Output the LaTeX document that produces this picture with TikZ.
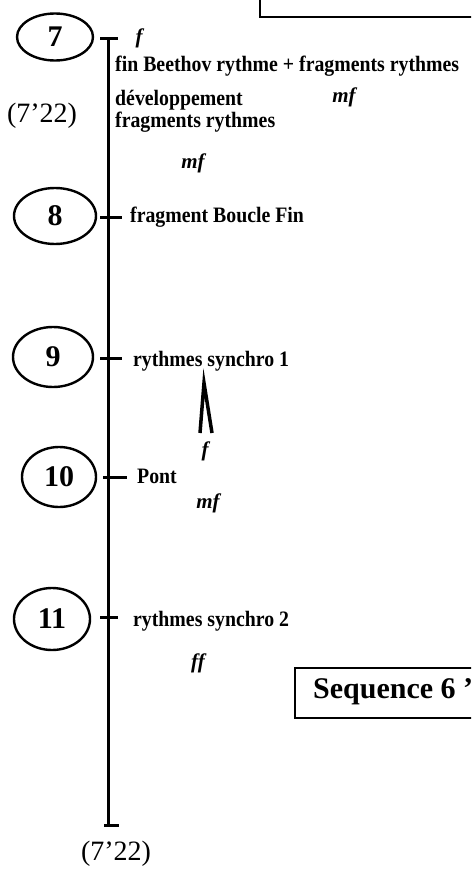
\documentclass[tikz,border=0pt]{standalone}
\usepackage{fontspec}
\setmainfont{Liberation Serif}
\newfontfamily\condserif[FakeStretch=0.9]{Liberation Serif}
\usetikzlibrary{shapes.geometric}
\tikzset{
  num/.style={draw, line width=2.4pt, ellipse, inner sep=0pt, font=\fontsize{30}{32}\selectfont\bfseries},
  lbl/.style={anchor=base west, inner sep=0pt, font=\condserif\fontsize{22}{19}\selectfont\bfseries},
  dyn/.style={inner sep=0pt, font=\fontsize{21}{23}\selectfont\bfseries\itshape},
  tme/.style={inner sep=0pt, font=\fontsize{28}{30}\selectfont},
  bar/.style={line width=3pt},
  frame/.style={draw, line width=2.4pt}
}
\begin{document}
\begin{tikzpicture}[x=1pt,y=-1pt]
\useasboundingbox (0,0) rectangle (471,872);
\clip (0,0) rectangle (471,872);
% boxes cut by the edge
\draw[frame] (260,-20) rectangle (490,17);
\node[frame, anchor=north west, minimum width=200pt, minimum height=50pt, inner sep=0pt] (seq) at (294,667) {};
\node[anchor=base west, inner sep=0pt, font=\fontsize{30}{32}\selectfont\bfseries] (seqt) at (313,698) {Sequence 6 '};
% timeline
\coordinate (top) at (108,39);
\coordinate (bot) at (108,825);
\draw[bar] (top) -- (bot);
\draw[bar] ([xshift=-8pt]top) -- ([xshift=10pt]top);
\draw[bar] ([xshift=-4pt]bot) -- ([xshift=11pt]bot);
\coordinate (t8) at (108,217);
\coordinate (t9) at (108,358);
\coordinate (t10) at (108,477);
\coordinate (t11) at (108,617);
\draw[bar] ([xshift=-8pt]t8) -- ([xshift=14pt]t8);
\draw[bar] ([xshift=-8pt]t9) -- ([xshift=14pt]t9);
\draw[bar] ([xshift=-5pt]t10) -- ([xshift=19pt]t10);
\draw[bar] ([xshift=-8pt]t11) -- ([xshift=10pt]t11);
% ellipses
\node[num, minimum width=76pt, minimum height=47pt] (e7) at (55,37) {7};
\node[num, minimum width=82pt, minimum height=56pt] (e8) at (55,216) {8};
\node[num, minimum width=80pt, minimum height=60pt] (e9) at (53,357) {9};
\node[num, minimum width=74pt, minimum height=60pt] (e10) at (59,477) {10};
\node[num, minimum width=76pt, minimum height=62pt] (e11) at (52,619) {11};
% times
\node[tme] (tA) at (42,116) {(7’22)};
\node[tme] (tB) at (116,854) {(7’22)};
% labels
\node[dyn] (d1) at (139,38) {f};
\node[lbl] (l1) at (115,72) {fin Beethov rythme + fragments rythmes};
\node[dyn] (d2) at (344,97) {mf};
\node[lbl] (l2) at (115,106) {développement};
\node[lbl] (l3) at (115,128) {fragments rythmes};
\node[dyn] (d3) at (193,163) {mf};
\node[lbl] (l4) at (130,222) {fragment Boucle Fin};
\node[lbl] (l5) at (133,366) {rythmes synchro 1};
\draw[line width=3.5pt, line join=miter] (200,433) -- (204,383) -- (212,433);
\node[dyn] (d4) at (205,451) {f};
\node[lbl] (l6) at (137,483) {Pont};
\node[dyn] (d5) at (208,503) {mf};
\node[lbl] (l7) at (133,626) {rythmes synchro 2};
\node[dyn] (d6) at (198,663) {ff};
\end{tikzpicture}
\end{document}
